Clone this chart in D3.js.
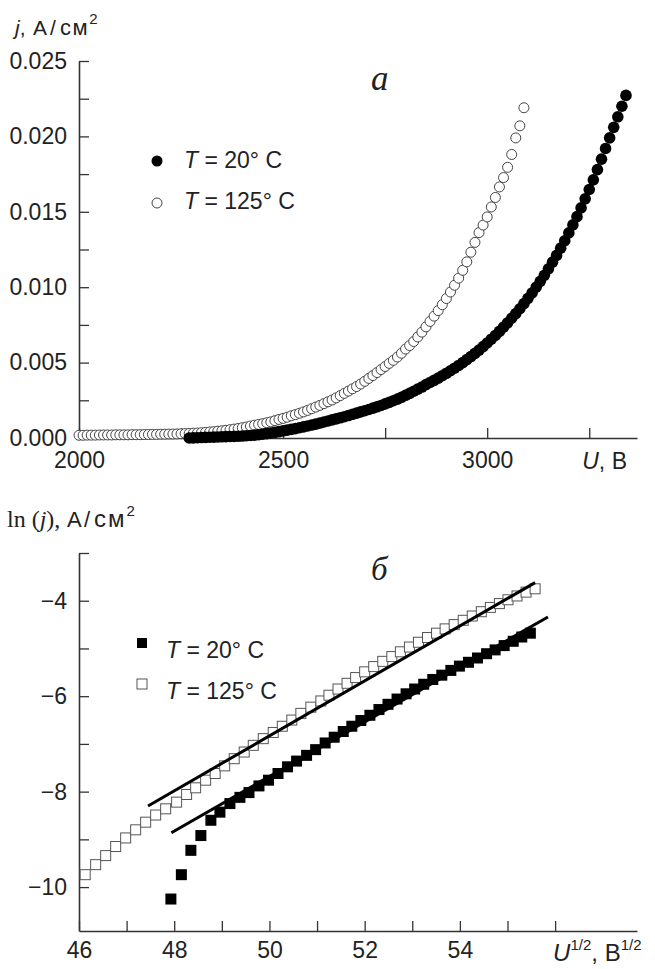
<!DOCTYPE html>
<html><head><meta charset="utf-8">
<script src="https://cdn.jsdelivr.net/npm/d3@7"></script>
<style>
body{margin:0;background:#fff;}
text{font-family:"Liberation Sans",Arial,sans-serif;fill:#222;}
.serif{font-family:"Liberation Serif","Times New Roman",serif;}
</style></head><body>
<script>
// ---------- Panel a: j(U) ----------
const u20 = [2270,2280,2290,2300,2310,2320,2330,2340,2350,2360,2370,2380,2390,2400,2410,2420,2430,2440,2450,2460,2470,2480,2490,2500,2510,2520,2530,2540,2550,2560,2570,2580,2590,2600,2610,2620,2630,2640,2650,2660,2670,2680,2690,2700,2710,2720,2730,2740,2750,2760,2770,2780,2790,2800,2810,2820,2830,2840,2850,2860,2870,2880,2890,2900,2910,2920,2930,2940,2950,2960,2970,2980,2990,3000,3010,3020,3030,3040,3050,3060,3070,3080,3090,3100,3110,3120,3130,3140,3150,3160,3170,3180,3190,3200,3210,3220,3230,3240,3250,3260,3270,3280,3290,3300,3310,3320,3330,3340];
const j20 = [0.00000,0.00001,0.00002,0.00003,0.00004,0.00005,0.00006,0.00007,0.00008,0.00009,0.00010,0.00011,0.00012,0.00013,0.00015,0.00017,0.00019,0.00022,0.00025,0.00029,0.00033,0.00037,0.00042,0.00047,0.00052,0.00057,0.00062,0.00068,0.00074,0.00080,0.00086,0.00092,0.00099,0.00106,0.00113,0.00120,0.00127,0.00134,0.00141,0.00149,0.00157,0.00165,0.00173,0.00181,0.00189,0.00198,0.00207,0.00216,0.00226,0.00236,0.00247,0.00258,0.00270,0.00283,0.00296,0.00310,0.00324,0.00338,0.00354,0.00368,0.00382,0.00397,0.00413,0.00429,0.00446,0.00463,0.00481,0.00500,0.00520,0.00540,0.00561,0.00583,0.00606,0.00630,0.00655,0.00680,0.00707,0.00735,0.00764,0.00794,0.00825,0.00857,0.00891,0.00926,0.00962,0.01000,0.01039,0.01079,0.01122,0.01166,0.01211,0.01259,0.01308,0.01360,0.01413,0.01468,0.01526,0.01586,0.01648,0.01712,0.01780,0.01849,0.01920,0.01990,0.02060,0.02130,0.02200,0.02272];

const u125 = [2000,2010,2020,2030,2040,2050,2060,2070,2080,2090,2100,2110,2120,2130,2140,2150,2160,2170,2180,2190,2200,2210,2220,2230,2240,2250,2260,2270,2280,2290,2300,2310,2320,2330,2340,2350,2360,2370,2380,2390,2400,2410,2420,2430,2440,2450,2460,2470,2480,2490,2500,2510,2520,2530,2540,2550,2560,2570,2580,2590,2600,2610,2620,2630,2640,2650,2660,2670,2680,2690,2700,2710,2720,2730,2740,2750,2760,2770,2780,2790,2800,2810,2820,2830,2840,2850,2860,2870,2880,2890,2900,2910,2920,2930,2940,2950,2960,2970,2980,2990,3000,3010,3020,3030,3040,3050,3060,3070,3080,3090];
const j125 = [0.00018,0.00018,0.00019,0.00019,0.00019,0.00020,0.00020,0.00020,0.00020,0.00021,0.00021,0.00021,0.00021,0.00022,0.00022,0.00022,0.00023,0.00023,0.00024,0.00024,0.00025,0.00025,0.00026,0.00026,0.00027,0.00028,0.00029,0.00030,0.00032,0.00033,0.00035,0.00037,0.00040,0.00042,0.00045,0.00048,0.00051,0.00055,0.00059,0.00063,0.00068,0.00073,0.00079,0.00085,0.00090,0.00095,0.00101,0.00107,0.00115,0.00123,0.00130,0.00138,0.00147,0.00155,0.00164,0.00173,0.00183,0.00194,0.00205,0.00216,0.00228,0.00240,0.00252,0.00266,0.00281,0.00296,0.00311,0.00326,0.00341,0.00358,0.00376,0.00395,0.00414,0.00434,0.00454,0.00474,0.00495,0.00515,0.00537,0.00562,0.00590,0.00613,0.00640,0.00670,0.00702,0.00737,0.00773,0.00808,0.00845,0.00884,0.00925,0.00968,0.01013,0.01060,0.01112,0.01168,0.01232,0.01297,0.01362,0.01412,0.01466,0.01532,0.01595,0.01665,0.01727,0.01795,0.01880,0.01990,0.02070,0.02190];

const topXTicks = [2000,2250,2500,2750,3000,3250];
const topXLabels = {2000:"2000",2500:"2500",3000:"3000"};
const topYTicks = [0,0.0025,0.005,0.0075,0.01,0.0125,0.015,0.0175,0.02,0.0225,0.025];
const topYLabels = {"0":"0.000","0.005":"0.005","0.01":"0.010","0.015":"0.015","0.02":"0.020","0.025":"0.025"};

// ---------- Panel б: ln j vs U^1/2 ----------
const s125x = [46.13,46.35,46.56,46.77,46.98,47.19,47.40,47.61,47.82,48.05,48.26,48.45,48.66,48.86,49.06,49.26,49.47,49.66,49.87,50.08,50.27,50.47,50.66,50.87,51.08,51.25,51.44,51.63,51.81,52.00,52.19,52.38,52.57,52.75,52.94,53.13,53.32,53.51,53.69,53.88,54.07,54.26,54.45,54.64,54.83,55.01,55.20,55.39,55.58];
const s125y = [-9.74,-9.53,-9.34,-9.15,-8.97,-8.80,-8.64,-8.49,-8.36,-8.22,-8.06,-7.92,-7.76,-7.62,-7.46,-7.31,-7.17,-7.03,-6.89,-6.76,-6.63,-6.50,-6.36,-6.23,-6.10,-5.98,-5.85,-5.73,-5.61,-5.49,-5.38,-5.27,-5.17,-5.07,-4.97,-4.87,-4.77,-4.68,-4.59,-4.50,-4.41,-4.32,-4.23,-4.14,-4.06,-3.98,-3.90,-3.82,-3.75];
const s20x = [47.93,48.15,48.35,48.56,48.77,48.96,49.17,49.38,49.57,49.78,49.98,50.18,50.38,50.57,50.78,50.97,51.17,51.36,51.55,51.73,51.92,52.11,52.30,52.49,52.68,52.87,53.05,53.24,53.43,53.62,53.81,53.99,54.18,54.37,54.56,54.74,54.93,55.12,55.30,55.48];
const s20y = [-10.25,-9.74,-9.23,-8.92,-8.60,-8.43,-8.25,-8.12,-8.02,-7.88,-7.76,-7.62,-7.48,-7.36,-7.24,-7.12,-6.98,-6.86,-6.74,-6.63,-6.51,-6.40,-6.28,-6.17,-6.06,-5.95,-5.85,-5.75,-5.65,-5.56,-5.46,-5.37,-5.29,-5.20,-5.11,-5.03,-4.94,-4.85,-4.76,-4.68];
const fit125 = [[47.45,-8.30],[55.58,-3.62]];
const fit20 = [[47.94,-8.86],[55.85,-4.34]];

const botXTicks = [46,47,48,49,50,51,52,53,54,55,56];
const botXLabels = {46:"46",48:"48",50:"50",52:"52",54:"54"};
const botYTicks = [-10,-9,-8,-7,-6,-5,-4,-3];
const botYLabels = {"-10":"−10","-8":"−8","-6":"−6","-4":"−4"};

const legendLabels = ["20", "125"];

// ---------- drawing ----------
const svg = d3.select("body").append("svg").attr("width",655).attr("height",969);

function styleAxis(g){
  g.select(".domain").attr("stroke","#333").attr("stroke-width",1.6);
  g.selectAll(".tick line").attr("stroke","#333").attr("stroke-width",1.3);
  g.selectAll(".tick text").attr("fill","#222").style("font-size","23px")
    .style("font-family","'Liberation Sans',Arial,sans-serif");
}

// Panel a
const xA = d3.scaleLinear().domain([2000,3367]).range([79,637]);
const yA = d3.scaleLinear().domain([0,0.025]).range([438,61]);

svg.append("g").attr("transform","translate(0,438)")
  .call(d3.axisBottom(xA).tickValues(topXTicks).tickSize(-10).tickSizeOuter(0).tickPadding(14)
    .tickFormat(d => topXLabels[d] || ""))
  .call(styleAxis);
svg.append("g").attr("transform","translate(79,0)")
  .call(d3.axisLeft(yA).tickValues(topYTicks).tickSize(-10).tickSizeOuter(0).tickPadding(12)
    .tickFormat(d => topYLabels[String(+d.toFixed(4))] || ""))
  .call(styleAxis);

// open circles 125 C
svg.append("g").selectAll("circle").data(u125.map((u,i)=>[u,j125[i]])).join("circle")
  .attr("cx",d=>xA(d[0])).attr("cy",d=>yA(d[1])).attr("r",5)
  .attr("fill","#fff").attr("stroke","#444").attr("stroke-width",1);
// filled circles 20 C
svg.append("g").selectAll("circle").data(u20.map((u,i)=>[u,j20[i]])).join("circle")
  .attr("cx",d=>xA(d[0])).attr("cy",d=>yA(d[1])).attr("r",5.8)
  .attr("fill","#000");

// axis titles panel a
const tA = svg.append("text").attr("y",35).style("font-size","21px");
tA.append("tspan").attr("x",15).style("font-style","italic").text("j");
tA.append("tspan").text(",");
tA.append("tspan").attr("x",33).text("A");
tA.append("tspan").attr("x",50).text("/");
tA.append("tspan").attr("x",60).style("font-size","22px").style("letter-spacing","1.5px").text("см");
tA.append("tspan").attr("dy",-11).style("font-size","15px").text("2");

const uA = svg.append("text").attr("x",xA(3250)-7).attr("y",469).style("font-size","23px");
uA.append("tspan").style("font-style","italic").text("U");
uA.append("tspan").text(", B");

svg.append("text").attr("class","serif").attr("x",371).attr("y",90)
  .style("font-size","35px").style("font-style","italic").text("а");

// legend a
svg.append("circle").attr("cx",157).attr("cy",161).attr("r",5.5).attr("fill","#000");
svg.append("circle").attr("cx",157).attr("cy",203).attr("r",5).attr("fill","#fff").attr("stroke","#444");
[168,209].forEach((yy,i)=>{
  const t = svg.append("text").attr("x",184).attr("y",yy).style("font-size","23px");
  t.append("tspan").style("font-style","italic").text("T");
  t.append("tspan").text(" = " + legendLabels[i] + "° C");
});

// Panel б
const xB = d3.scaleLinear().domain([46,57.72]).range([79,637]);
const yB = d3.scaleLinear().domain([-10.92,-3]).range([931,553]);

svg.append("g").attr("transform","translate(0,931)")
  .call(d3.axisBottom(xB).tickValues(botXTicks).tickSize(-10).tickSizeOuter(0).tickPadding(11)
    .tickFormat(d => botXLabels[d] || ""))
  .call(styleAxis);
svg.append("g").attr("transform","translate(79,0)")
  .call(d3.axisLeft(yB).tickValues(botYTicks).tickSize(-10).tickSizeOuter(0).tickPadding(12)
    .tickFormat(d => botYLabels[d] || ""))
  .call(styleAxis);

const sq = 10;
svg.append("g").selectAll("rect").data(s125x.map((x,i)=>[x,s125y[i]])).join("rect")
  .attr("x",d=>xB(d[0])-sq/2).attr("y",d=>yB(d[1])-sq/2).attr("width",sq).attr("height",sq)
  .attr("fill","#fff").attr("stroke","#555").attr("stroke-width",1);
svg.append("g").selectAll("rect").data(s20x.map((x,i)=>[x,s20y[i]])).join("rect")
  .attr("x",d=>xB(d[0])-sq/2-0.5).attr("y",d=>yB(d[1])-sq/2-0.5).attr("width",sq+1).attr("height",sq+1)
  .attr("fill","#000");

const line = d3.line().x(d=>xB(d[0])).y(d=>yB(d[1]));
[fit125, fit20].forEach(f=>{
  svg.append("path").attr("d",line(f)).attr("stroke","#000").attr("stroke-width",3).attr("fill","none");
});

// titles panel б
const tB = svg.append("text").attr("y",527).style("font-size","22px");
tB.append("tspan").attr("x",7).attr("class","serif").style("font-size","24px").text("ln (");
tB.append("tspan").attr("class","serif").style("font-size","24px").style("font-style","italic").text("j");
tB.append("tspan").attr("class","serif").style("font-size","24px").text("),");
tB.append("tspan").attr("x",67).text("A");
tB.append("tspan").attr("x",84).text("/");
tB.append("tspan").attr("x",94).style("font-size","24px").style("letter-spacing","2px").text("см");
tB.append("tspan").attr("dy",-11).style("font-size","15px").text("2");

const uB = svg.append("text").attr("x",xB(56)-2).attr("y",961).style("font-size","24px");
uB.append("tspan").style("font-style","italic").text("U");
uB.append("tspan").attr("dy",-11).style("font-size","15px").text("1/2");
uB.append("tspan").attr("dy",11).text(", B");
uB.append("tspan").attr("dy",-11).style("font-size","15px").text("1/2");

svg.append("text").attr("class","serif").attr("x",371).attr("y",580)
  .style("font-size","33px").style("font-style","italic").text("б");

// legend б
svg.append("rect").attr("x",137).attr("y",638).attr("width",10).attr("height",10).attr("fill","#000");
svg.append("rect").attr("x",137).attr("y",679).attr("width",10).attr("height",10).attr("fill","#fff").attr("stroke","#555");
[658,699].forEach((yy,i)=>{
  const t = svg.append("text").attr("x",166).attr("y",yy).style("font-size","23px");
  t.append("tspan").style("font-style","italic").text("T");
  t.append("tspan").text(" = " + legendLabels[i] + "° C");
});
</script>
</body></html>
